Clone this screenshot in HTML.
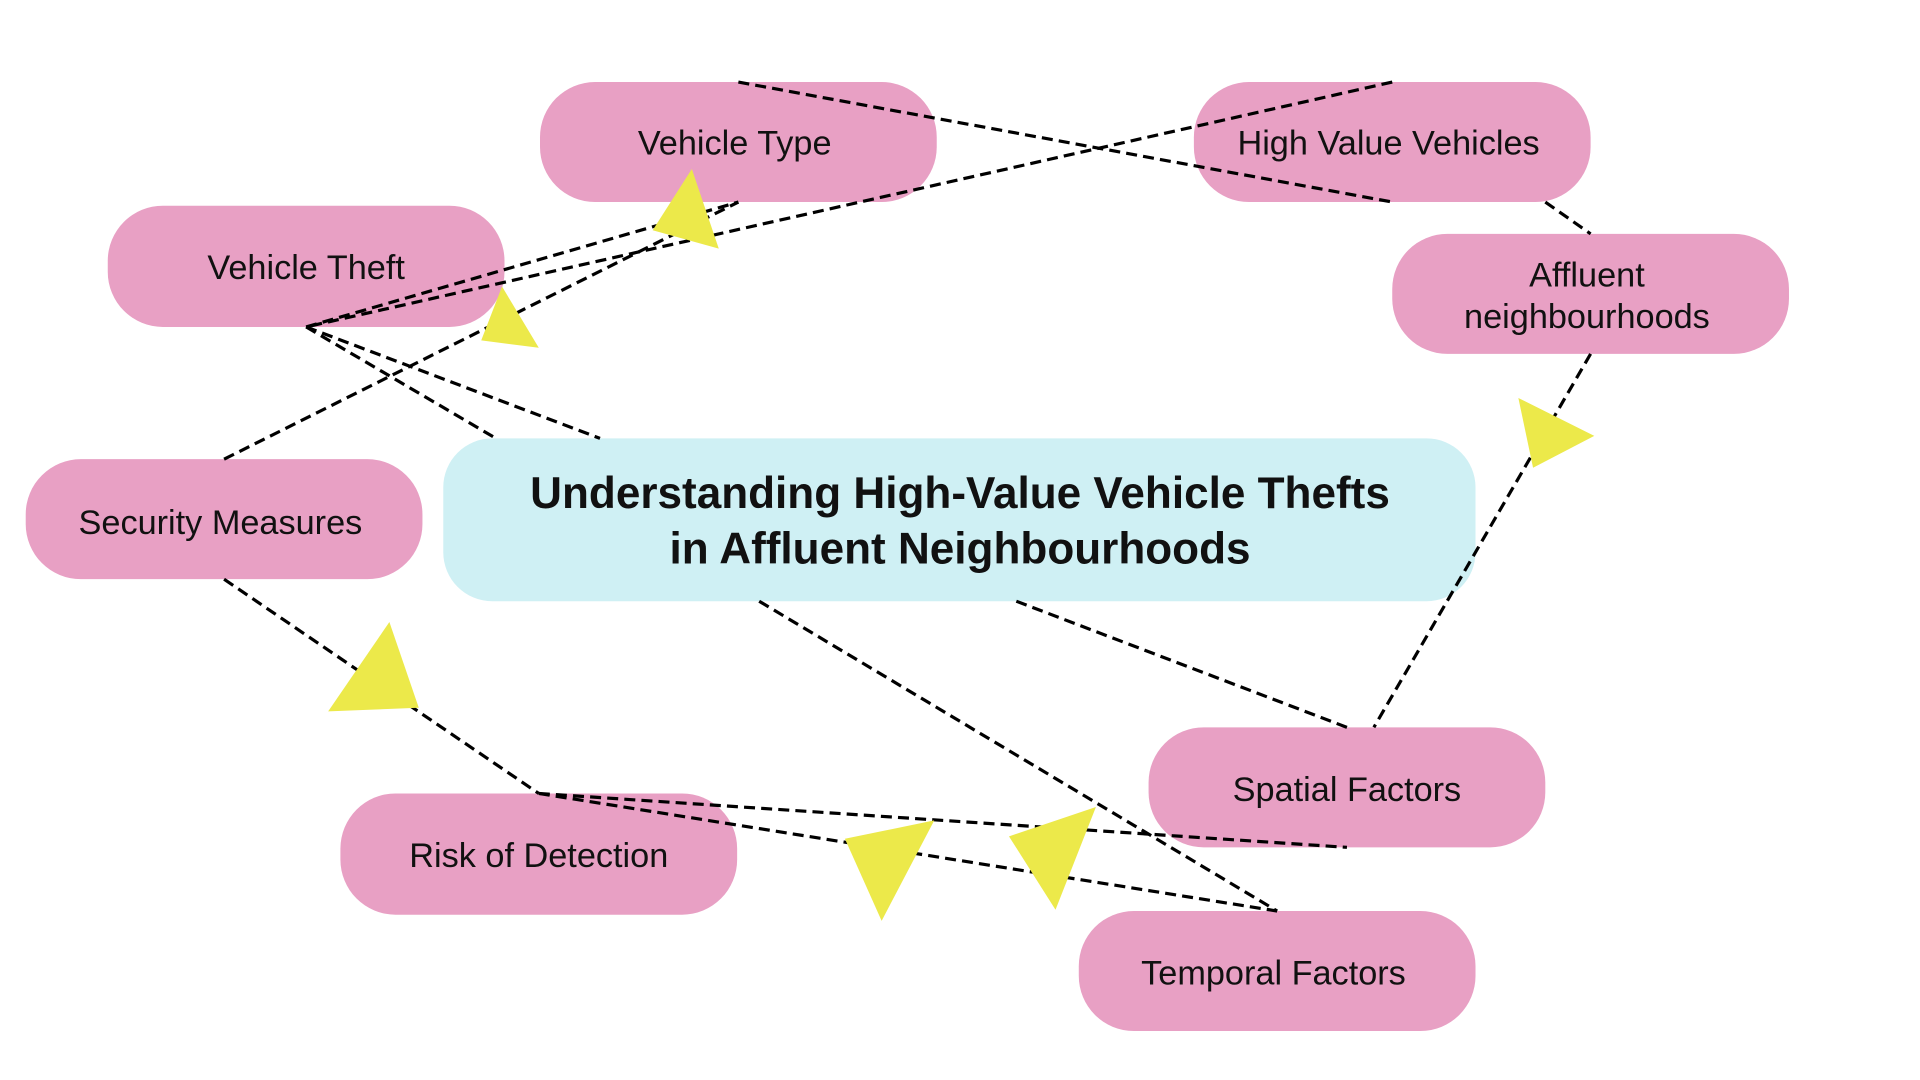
<!DOCTYPE html>
<html><head><meta charset="utf-8"><style>
html,body{margin:0;padding:0;background:#fff;width:1920px;height:1080px;overflow:hidden}
svg{display:block}
text{font-family:"Liberation Sans",sans-serif;fill:#111}
</style></head><body>
<svg width="1920" height="1080" viewBox="0 0 1568 882" preserveAspectRatio="none" xmlns="http://www.w3.org/2000/svg">
<rect width="1568" height="882" fill="#fff"/>
<g fill="#e8a0c4">
<rect x="441" y="67" width="324" height="98" rx="45"/>
<rect x="975" y="67" width="324" height="98" rx="45"/>
<rect x="88" y="168" width="324" height="99" rx="45"/>
<rect x="1137" y="191" width="324" height="98" rx="45"/>
<rect x="21" y="375" width="324" height="98" rx="45"/>
<rect x="938" y="594" width="324" height="98" rx="45"/>
<rect x="278" y="648" width="324" height="99" rx="45"/>
<rect x="881" y="744" width="324" height="98" rx="45"/>
</g>
<rect x="362" y="358" width="843" height="133" rx="40" fill="#cff0f4"/>
<g stroke="#000" stroke-width="2.6" stroke-dasharray="9,5" fill="none">
<line x1="603" y1="67" x2="1137" y2="165"/>
<line x1="1137" y1="67" x2="250" y2="267"/>
<line x1="250" y1="267" x2="603" y2="165"/>
<line x1="183" y1="375" x2="603" y2="165"/>
<line x1="250" y1="267" x2="405" y2="358"/>
<line x1="250" y1="267" x2="490" y2="358"/>
<line x1="1262" y1="165" x2="1299" y2="191"/>
<line x1="1299" y1="289" x2="1122" y2="594"/>
<line x1="830" y1="491" x2="1100" y2="594"/>
<line x1="620" y1="491" x2="1043" y2="744"/>
<line x1="183" y1="473" x2="440" y2="648"/>
<line x1="440" y1="648" x2="1100" y2="692"/>
<line x1="440" y1="648" x2="1043" y2="744"/>
</g>
<g fill="#ece94a">
<polygon points="565,138 533,188 587,203"/>
<polygon points="410,234 393,278 440,284"/>
<polygon points="1240,325 1302,356 1252,382"/>
<polygon points="318,508 268,581 342,578"/>
<polygon points="690,685 763,670 720,752"/>
<polygon points="824,683 895,659 862,743"/>
</g>
<g font-size="28" text-anchor="middle">
<text x="600" y="126">Vehicle Type</text>
<text x="1134" y="126">High Value Vehicles</text>
<text x="250" y="228">Vehicle Theft</text>
<text x="1296" y="234">Affluent</text>
<text x="1296" y="268">neighbourhoods</text>
<text x="180" y="436">Security Measures</text>
<text x="1100" y="654">Spatial Factors</text>
<text x="440" y="708">Risk of Detection</text>
<text x="1040" y="804">Temporal Factors</text>
</g>
<g font-size="36" font-weight="bold" text-anchor="middle">
<text x="784" y="415">Understanding High-Value Vehicle Thefts</text>
<text x="784" y="460">in Affluent Neighbourhoods</text>
</g>
</svg>
</body></html>
